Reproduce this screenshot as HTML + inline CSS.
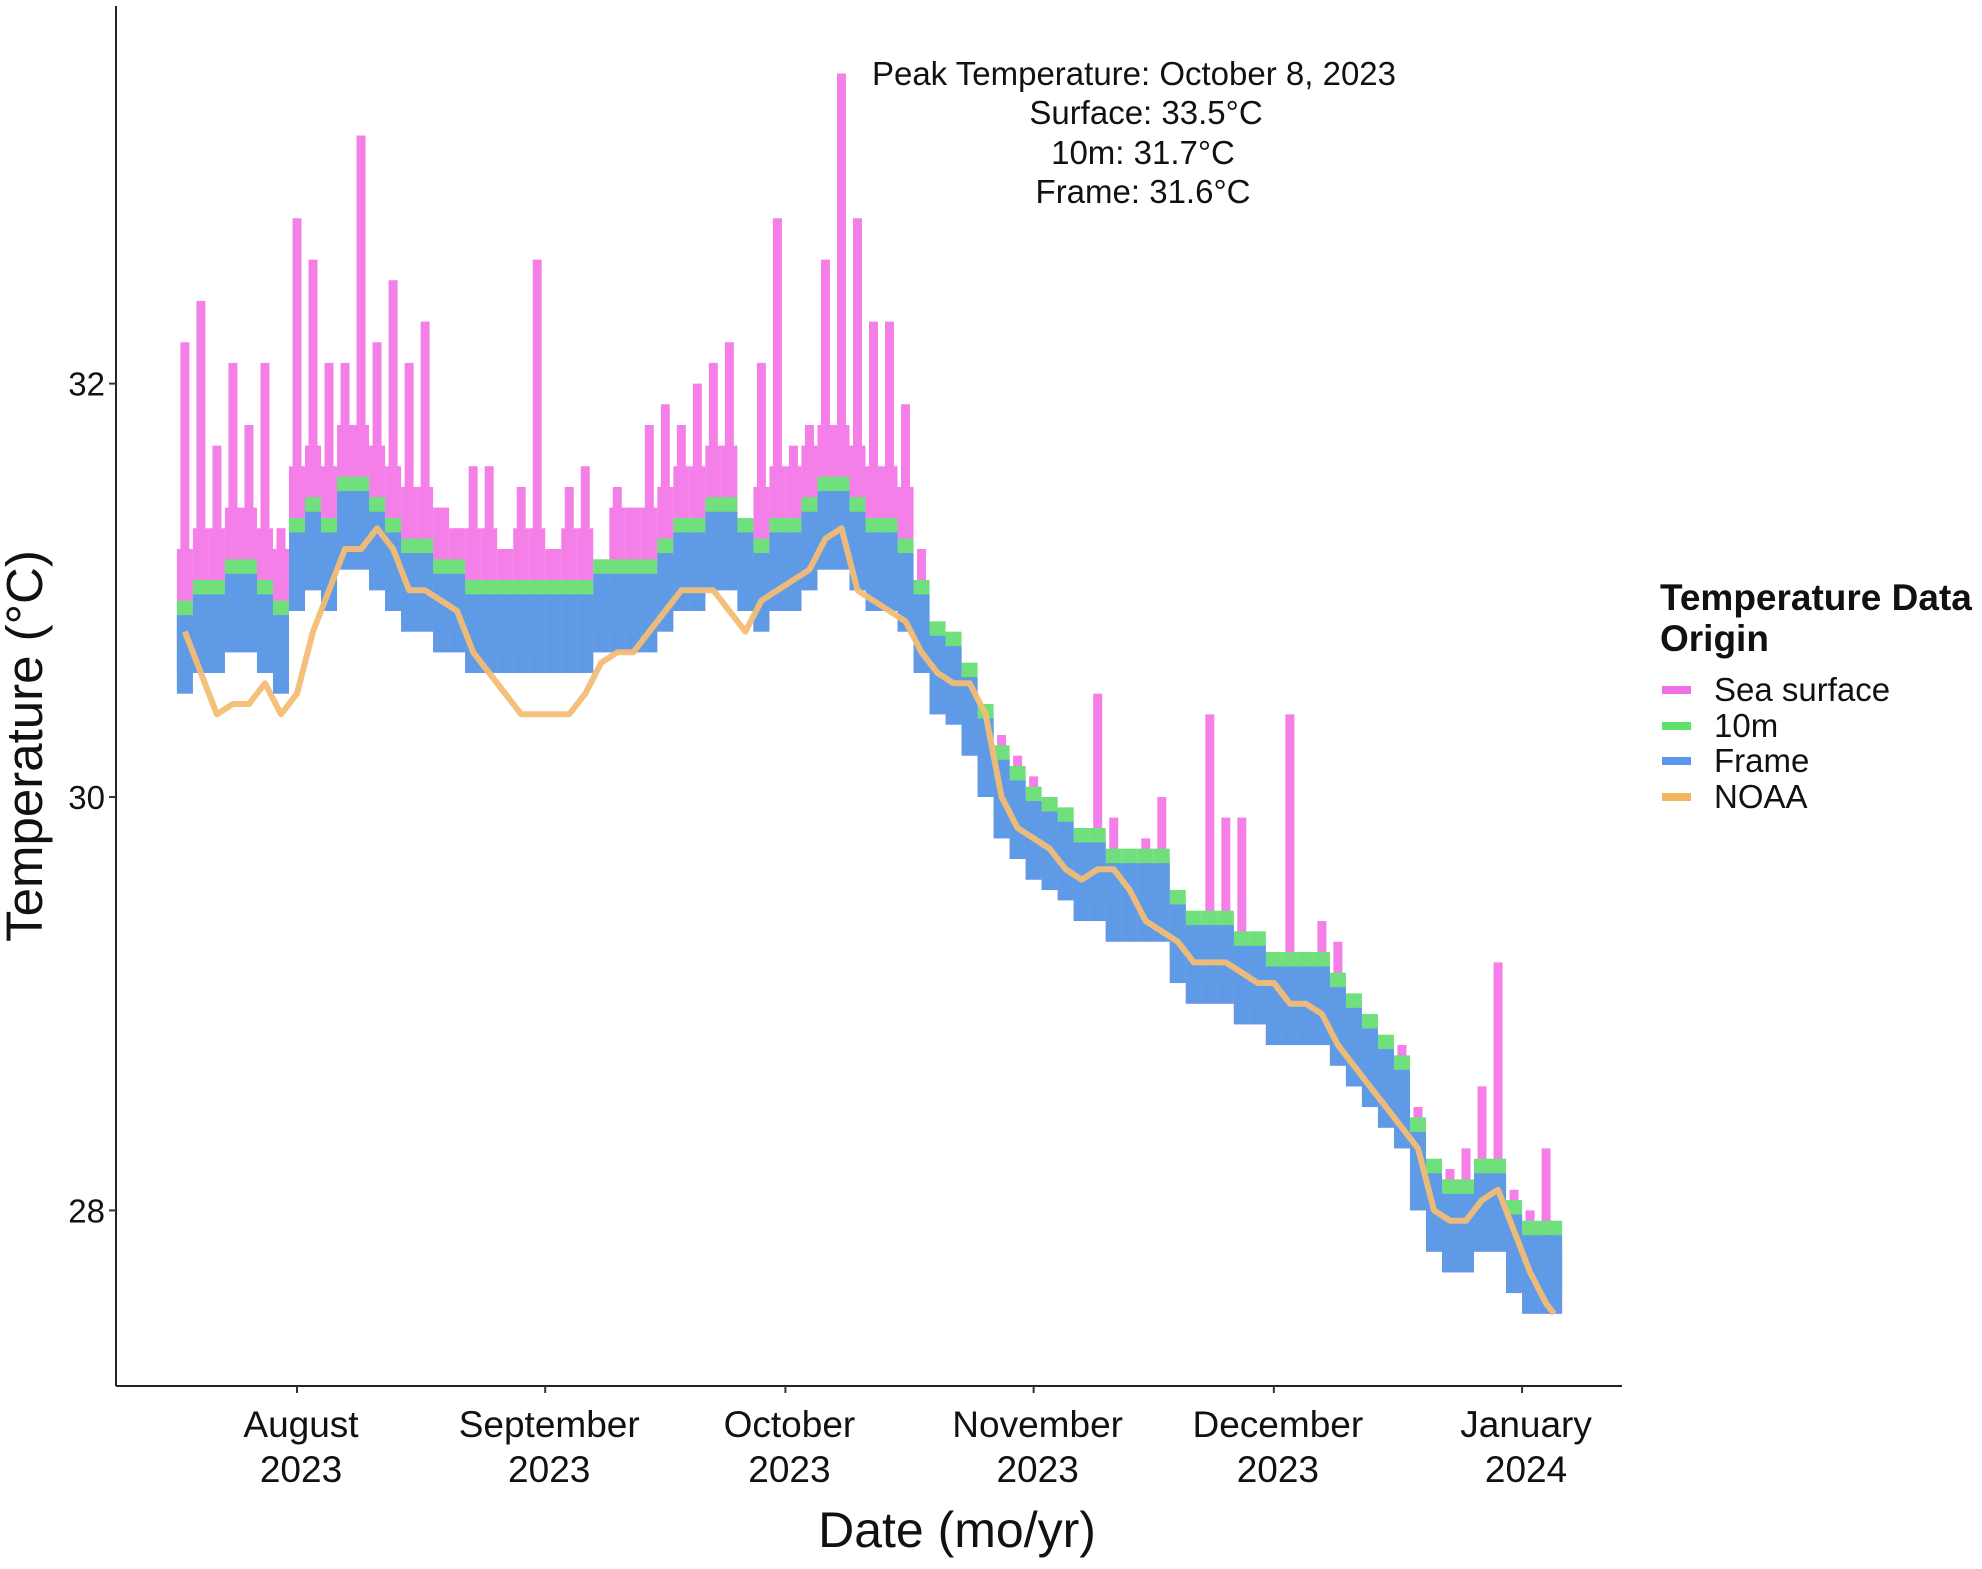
<!DOCTYPE html>
<html><head><meta charset="utf-8"><style>
body{margin:0;background:#fff;}
svg text{font-family:"Liberation Sans",Arial,sans-serif;fill:#111;}
</style></head><body>
<svg width="1982" height="1564" viewBox="0 0 1982 1564" xmlns="http://www.w3.org/2000/svg">
<g id="plot"></g>
<line x1="116" y1="6" x2="116" y2="1386" stroke="#222" stroke-width="2"/>
<line x1="116" y1="1386" x2="1622" y2="1386" stroke="#222" stroke-width="2"/>
<g id="yticks"></g>
<g id="xticks"></g>
<text transform="translate(42,746) rotate(-90)" text-anchor="middle" font-size="51">Temperature (°C)</text>
<text x="957" y="1547" text-anchor="middle" font-size="50">Date (mo/yr)</text>
<g font-size="33" text-anchor="middle">
<text x="1134" y="85">Peak Temperature: October 8, 2023</text>
<text x="1146" y="124">Surface: 33.5°C</text>
<text x="1143" y="164">10m: 31.7°C</text>
<text x="1143" y="203">Frame: 31.6°C</text>
</g>
<g>
<text x="1660" y="610" font-size="37" font-weight="bold">Temperature Data</text>
<text x="1660" y="651" font-size="37" font-weight="bold">Origin</text>
<rect x="1662" y="686" width="29" height="8" fill="#f06ee6"/>
<text x="1714" y="701" font-size="33">Sea surface</text>
<rect x="1662" y="722" width="29" height="8" fill="#5ee06c"/>
<text x="1714" y="737" font-size="33">10m</text>
<rect x="1662" y="757" width="29" height="8" fill="#5a96ec"/>
<text x="1714" y="772" font-size="33">Frame</text>
<rect x="1662" y="793" width="29" height="8" fill="#f3b45e"/>
<text x="1714" y="808" font-size="33">NOAA</text>
</g>
</svg>
<script>
const days=[-14,-12,-10,-8,-6,-4,-2,0,2,4,6,8,10,12,14,16,18,20,22,24,26,28,30,32,34,36,38,40,42,44,46,48,50,52,54,56,58,60,62,64,66,68,70,72,74,76,78,80,82,84,86,88,90,92,94,96,98,100,102,104,106,108,110,112,114,116,118,120,122,124,126,128,130,132,134,136,138,140,142,144,146,148,150,152,154,156,157];
const surface=[32.2,32.4,31.7,32.1,31.8,32.1,31.3,32.8,32.6,32.1,32.1,33.2,32.2,32.5,32.1,32.3,31.4,31.3,31.6,31.6,31.2,31.5,32.6,31.2,31.5,31.6,31.0,31.5,31.4,31.8,31.9,31.8,32.0,32.1,32.2,31.1,32.1,32.8,31.7,31.8,32.6,33.5,32.8,32.3,32.3,31.9,31.2,30.8,30.7,30.5,30.4,30.3,30.2,30.1,30.0,29.8,29.8,30.5,29.9,29.7,29.8,30.0,29.5,29.4,30.4,29.9,29.9,29.3,29.2,30.4,29.2,29.4,29.3,29.0,28.9,28.7,28.8,28.5,28.2,28.2,28.3,28.6,29.2,28.1,28.0,28.3,27.8];
const frame=[30.7,30.8,30.8,30.9,30.9,30.8,30.7,31.1,31.2,31.1,31.3,31.3,31.2,31.1,31.0,31.0,30.9,30.9,30.8,30.8,30.8,30.8,30.8,30.8,30.8,30.8,30.9,30.9,30.9,30.9,31.0,31.1,31.1,31.2,31.2,31.1,31.0,31.1,31.1,31.2,31.3,31.3,31.2,31.1,31.1,31.0,30.8,30.6,30.55,30.4,30.2,30.0,29.9,29.8,29.75,29.7,29.6,29.6,29.5,29.5,29.5,29.5,29.3,29.2,29.2,29.2,29.1,29.1,29.0,29.0,29.0,29.0,28.9,28.8,28.7,28.6,28.5,28.2,28.0,27.9,27.9,28.0,28.0,27.8,27.7,27.7,27.7];
const noaa=[30.8,30.6,30.4,30.45,30.45,30.55,30.4,30.5,30.8,31.0,31.2,31.2,31.3,31.2,31.0,31.0,30.95,30.9,30.7,30.6,30.5,30.4,30.4,30.4,30.4,30.5,30.65,30.7,30.7,30.8,30.9,31.0,31.0,31.0,30.9,30.8,30.95,31.0,31.05,31.1,31.25,31.3,31.0,30.95,30.9,30.85,30.7,30.6,30.55,30.55,30.4,30.0,29.85,29.8,29.75,29.65,29.6,29.65,29.65,29.55,29.4,29.35,29.3,29.2,29.2,29.2,29.15,29.1,29.1,29.0,29.0,28.95,28.8,28.7,28.6,28.5,28.4,28.3,28.0,27.95,27.95,28.05,28.1,27.9,27.7,27.55,27.5];
const yTicks=[28,30,32];
const xTickDays=[0,31,61,92,122,153];
const xTickLabels=[["August","2023"],["September","2023"],["October","2023"],["November","2023"],["December","2023"],["January","2024"]];
const X=d=>297+d*8.007;
const Y=t=>797-(t-30)*206.7;
const NS="http://www.w3.org/2000/svg";
function mk(tag,attrs,parent){const e=document.createElementNS(NS,tag);for(const k in attrs)e.setAttribute(k,attrs[k]);parent.appendChild(e);return e;}
const plot=document.getElementById('plot');
const gS=mk('g',{},plot),gG=mk('g',{},plot),gF=mk('g',{},plot);
days.forEach((d,i)=>{
  const x=X(d),f=frame[i],s=surface[i];
  const mid=Math.min(s,f+(d<78?0.5:0.2));
  let r=mk('rect',{x:x-8,y:Y(mid),width:16,height:Y(f-0.2)-Y(mid),fill:'#f47fe9'},gS);
  
  
  let l=mk('line',{x1:x,x2:x,y1:Y(f),y2:Y(s),stroke:'#f47fe9','stroke-width':9},gS);
  
  
  let g=mk('rect',{x:x-8,y:Y(f+0.25),width:16,height:Y(f-0.1)-Y(f+0.25),fill:'#6fe07b'},gG);
  
  
  let b=mk('rect',{x:x-8,y:Y(f+0.18),width:16,height:Y(f-0.2)-Y(f+0.18),fill:'#5f9ae6'},gF);
  
  
});
const pts=days.map((d,i)=>X(d).toFixed(1)+','+Y(noaa[i]).toFixed(1)).join(' ');
const pl=mk('polyline',{points:pts,fill:'none',stroke:'#f3bd74','stroke-width':6,'stroke-linejoin':'round','opacity':0.95},plot);


const yt=document.getElementById('yticks');
yTicks.forEach(t=>{
  const tk=mk('line',{x1:109,x2:116,y1:Y(t),y2:Y(t),stroke:'#333','stroke-width':2},yt);
  
  
  const tx=mk('text',{x:105,y:Y(t)+12,'text-anchor':'end','font-size':33},yt);
  tx.textContent=t;
  
  
});
const xt=document.getElementById('xticks');
xTickDays.forEach((d,i)=>{
  const tk=mk('line',{x1:X(d),x2:X(d),y1:1386,y2:1393,stroke:'#333','stroke-width':2},xt);
  
  
  xTickLabels[i].forEach((s,j)=>{
    const tx=mk('text',{x:X(d)+4,y:1437+j*45,'text-anchor':'middle','font-size':37},xt);
    tx.textContent=s;
    
    
  });
});
</script>
</body></html>
